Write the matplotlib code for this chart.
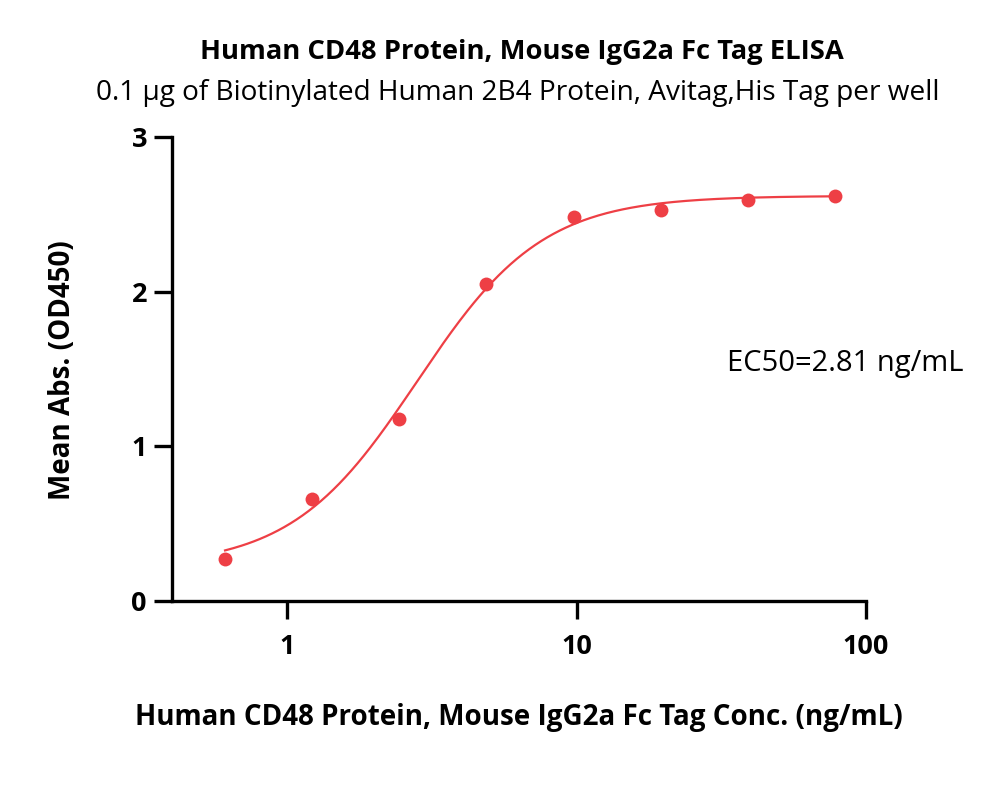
import matplotlib.pyplot as plt
import numpy as np
from matplotlib.ticker import FixedLocator, NullLocator

plt.rcParams['font.family'] = ['Open Sans', 'DejaVu Sans']

# 数据
conc = [0.61, 1.22, 2.44, 4.88, 9.77, 19.53, 39.06, 78.13]
od450 = [0.27, 0.66, 1.18, 2.05, 2.48, 2.53, 2.59, 2.62]

# 四参数拟合曲线参数
fit_bottom = 0.22
fit_top = 2.62
fit_ec50 = 2.81
fit_hill = 2.0

red = '#EE3F45'

fig = plt.figure(figsize=(10, 8.08), dpi=100)
ax = fig.add_axes([0.172, 0.256, 0.694, 0.5744])

xs = np.logspace(np.log10(conc[0]), np.log10(conc[-1]), 300)
ys = fit_bottom + (fit_top - fit_bottom) / (1 + (fit_ec50 / xs) ** fit_hill)
ax.plot(xs, ys, color=red, lw=1.6)
ax.plot(conc, od450, 'o', color=red, ms=10, mec='none')

ax.set_xscale('log')
ax.set_xlim(0.4, 100)
ax.set_ylim(0, 3)
ax.xaxis.set_major_locator(FixedLocator([1, 10, 100]))
ax.xaxis.set_minor_locator(NullLocator())
ax.set_xticklabels(['1', '10', '100'])
ax.set_yticks([0, 1, 2, 3])

for s in ['top', 'right']:
    ax.spines[s].set_visible(False)
for s in ['left', 'bottom']:
    ax.spines[s].set_linewidth(2.4)
ax.tick_params(width=2.4, length=13, labelsize=19.5)
ax.tick_params(axis='x', pad=11)
ax.tick_params(axis='y', pad=5)
for lab in ax.get_xticklabels() + ax.get_yticklabels():
    lab.set_fontweight('bold')

ax.set_xlabel('Human CD48 Protein, Mouse IgG2a Fc Tag Conc. (ng/mL)',
              fontsize=20, fontweight='bold')
ax.xaxis.set_label_coords(0.5, (601 - 717) / 464)
ax.xaxis.label.set_va('center')
ax.set_ylabel('Mean Abs. (OD450)', fontsize=20, fontweight='bold')
ax.yaxis.set_label_coords((62 - 172) / 694, (601 - 370) / 464)
ax.yaxis.label.set_va('center')

fig.text(0.522, 1 - 52 / 808, 'Human CD48 Protein, Mouse IgG2a Fc Tag ELISA',
         ha='center', va='center', fontsize=19.7, fontweight='bold')
fig.text(0.518, 1 - 93 / 808, '0.1 µg of Biotinylated Human 2B4 Protein, Avitag,His Tag per well',
         ha='center', va='center', fontsize=20.2)
fig.text(0.727, 1 - 363 / 808, 'EC50=2.81 ng/mL', ha='left', va='center', fontsize=21)

fig.savefig('out.png', dpi=100)
